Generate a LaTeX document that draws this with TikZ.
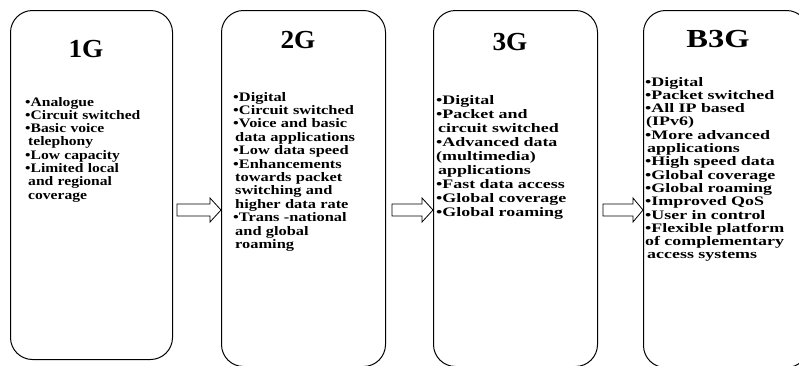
\documentclass[tikz,border=0pt]{standalone}
\usepackage{fontspec}
\setmainfont{Liberation Serif}
\newfontfamily\stA[FakeStretch=1.20]{Liberation Serif}
\newfontfamily\stB[FakeStretch=1.26]{Liberation Serif}
\newfontfamily\stC[FakeStretch=1.38]{Liberation Serif}
\newfontfamily\stD[FakeStretch=1.38]{Liberation Serif}
\newfontfamily\stT[FakeStretch=1.05]{Liberation Serif}
\newfontfamily\stU[FakeStretch=1.25]{Liberation Serif}
\begin{document}
\begin{tikzpicture}[x=1pt,y=-1pt,
  genbox/.style={draw, line width=1pt, rounded corners=22pt, inner sep=0pt, anchor=north west},
  gentitle/.style={font=\stT\fontsize{26}{30}\selectfont\bfseries, anchor=base, inner sep=0pt},
  genlist/.style={anchor=base west, inner sep=0pt, text width=170pt, align=left},
  blockarrow/.style={draw, line width=0.8pt, fill=white, line join=miter}
]
\useasboundingbox (0,0) rectangle (799,365);
% boxes
\node[genbox, minimum width=162pt, minimum height=349pt] (b1) at (10,10) {};
\node[genbox, minimum width=164pt, minimum height=356pt] (b2) at (221,10) {};
\node[genbox, minimum width=164pt, minimum height=356pt] (b3) at (433,10) {};
\node[genbox, minimum width=165pt, minimum height=357pt] (b4) at (643,10) {};
% titles
\node[gentitle] (t1) at (86,57) {1G};
\node[gentitle] (t2) at (298,48) {2G};
\node[gentitle] (t3) at (510,50) {3G};
\node[gentitle, font=\stU\fontsize{26}{30}\selectfont\bfseries] (t4) at (718,47) {B3G};
% lists
\node[genlist, font=\stA\fontsize{13}{13.3}\selectfont\bfseries] (l1) at (25,106) {\textbullet Analogue\\
\textbullet Circuit switched\\
\textbullet Basic voice\\
\hspace*{3pt}telephony\\
\textbullet Low capacity\\
\textbullet Limited local\\
\hspace*{3pt}and regional\\
\hspace*{3pt}coverage};
\node[genlist, font=\stB\fontsize{13}{13.4}\selectfont\bfseries] (l2) at (233,101) {\textbullet Digital\\
\textbullet Circuit switched\\
\textbullet Voice and basic\\
\hspace*{2pt}data applications\\
\textbullet Low data speed\\
\textbullet Enhancements\\
\hspace*{2pt}towards packet\\
\hspace*{2pt}switching and\\
\hspace*{2pt}higher data rate\\
\textbullet Trans -national\\
\hspace*{2pt}and global\\
\hspace*{2pt}roaming};
\node[genlist, font=\stC\fontsize{13}{14}\selectfont\bfseries] (l3) at (436,104) {\textbullet Digital\\
\textbullet Packet and\\
\hspace*{2pt}circuit switched\\
\textbullet Advanced data\\
(multimedia)\\
\hspace*{2pt}applications\\
\textbullet Fast data access\\
\textbullet Global coverage\\
\textbullet Global roaming};
\node[genlist, font=\stD\fontsize{13}{13.3}\selectfont\bfseries] (l4) at (645,86) {\textbullet Digital\\
\textbullet Packet switched\\
\textbullet All IP based\\
\hspace*{1pt}(IPv6)\\
\textbullet More advanced\\
\hspace*{2pt}applications\\
\textbullet High speed data\\
\textbullet Global coverage\\
\textbullet Global roaming\\
\textbullet Improved QoS\\
\textbullet User in control\\
\textbullet Flexible platform\\
of complementary\\
\hspace*{2pt}access systems};
% arrows (block arrows ending at the next box)
\coordinate (ay) at (0,210);
\coordinate (p1) at (b2.west |- ay);
\coordinate (p2) at (b3.west |- ay);
\coordinate (p3) at (b4.west |- ay);
\draw[blockarrow] (p1) ++(-44,-6) -- ++(33,0) -- ++(0,-6) -- (p1) -- ++(-11,12) -- ++(0,-6) -- ++(-33,0) -- cycle;
\draw[blockarrow] (p2) ++(-41,-6) -- ++(30,0) -- ++(0,-6) -- (p2) -- ++(-11,12) -- ++(0,-6) -- ++(-30,0) -- cycle;
\draw[blockarrow] (p3) ++(-40,-6) -- ++(30,0) -- ++(0,-6) -- (p3) -- ++(-10,12) -- ++(0,-6) -- ++(-30,0) -- cycle;
\end{tikzpicture}
\end{document}
